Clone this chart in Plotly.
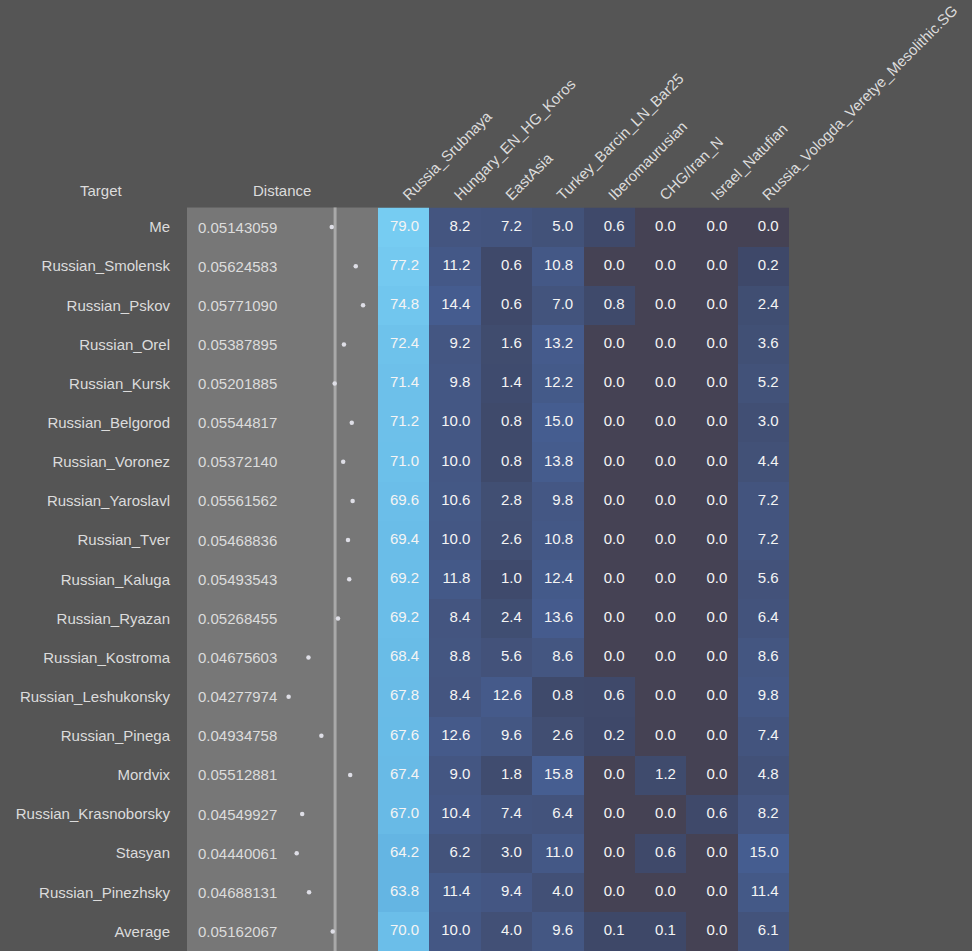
import plotly.graph_objects as go

targets = ["Me", "Russian_Smolensk", "Russian_Pskov", "Russian_Orel", "Russian_Kursk",
           "Russian_Belgorod", "Russian_Voronez", "Russian_Yaroslavl", "Russian_Tver",
           "Russian_Kaluga", "Russian_Ryazan", "Russian_Kostroma", "Russian_Leshukonsky",
           "Russian_Pinega", "Mordvix", "Russian_Krasnoborsky", "Stasyan",
           "Russian_Pinezhsky", "Average"]

distances = [0.05143059, 0.05624583, 0.05771090, 0.05387895, 0.05201885, 0.05544817,
             0.05372140, 0.05561562, 0.05468836, 0.05493543, 0.05268455, 0.04675603,
             0.04277974, 0.04934758, 0.05512881, 0.04549927, 0.04440061, 0.04688131,
             0.05162067]

sources = ["Russia_Srubnaya", "Hungary_EN_HG_Koros", "EastAsia", "Turkey_Barcin_LN_Bar25",
           "Iberomaurusian", "CHG/Iran_N", "Israel_Natufian", "Russia_Vologda_Veretye_Mesolithic.SG"]

russia_srubnaya = [79.0, 77.2, 74.8, 72.4, 71.4, 71.2, 71.0, 69.6, 69.4, 69.2, 69.2, 68.4, 67.8, 67.6, 67.4, 67.0, 64.2, 63.8, 70.0]
hungary_koros   = [8.2, 11.2, 14.4, 9.2, 9.8, 10.0, 10.0, 10.6, 10.0, 11.8, 8.4, 8.8, 8.4, 12.6, 9.0, 10.4, 6.2, 11.4, 10.0]
east_asia       = [7.2, 0.6, 0.6, 1.6, 1.4, 0.8, 0.8, 2.8, 2.6, 1.0, 2.4, 5.6, 12.6, 9.6, 1.8, 7.4, 3.0, 9.4, 4.0]
turkey_barcin   = [5.0, 10.8, 7.0, 13.2, 12.2, 15.0, 13.8, 9.8, 10.8, 12.4, 13.6, 8.6, 0.8, 2.6, 15.8, 6.4, 11.0, 4.0, 9.6]
iberomaurusian  = [0.6, 0.0, 0.8, 0.0, 0.0, 0.0, 0.0, 0.0, 0.0, 0.0, 0.0, 0.0, 0.6, 0.2, 0.0, 0.0, 0.0, 0.0, 0.1]
chg_iran        = [0.0, 0.0, 0.0, 0.0, 0.0, 0.0, 0.0, 0.0, 0.0, 0.0, 0.0, 0.0, 0.0, 0.0, 1.2, 0.0, 0.6, 0.0, 0.1]
israel_natufian = [0.0, 0.0, 0.0, 0.0, 0.0, 0.0, 0.0, 0.0, 0.0, 0.0, 0.0, 0.0, 0.0, 0.0, 0.0, 0.6, 0.0, 0.0, 0.0]
vologda_veretye = [0.0, 0.2, 2.4, 3.6, 5.2, 3.0, 4.4, 7.2, 7.2, 5.6, 6.4, 8.6, 9.8, 7.4, 4.8, 8.2, 15.0, 11.4, 6.1]

columns = [russia_srubnaya, hungary_koros, east_asia, turkey_barcin,
           iberomaurusian, chg_iran, israel_natufian, vologda_veretye]

ref_line = 0.0521

BG = "#555555"
PANEL = "#777777"
LABEL = "#dcdcdc"
FONT = "Arial, Liberation Sans, sans-serif"

W, H = 972, 951
def px_x(p): return p / W
def px_y(p): return 1 - p / H

z = [[col[r] for col in columns] for r in range(len(targets))]
zmax = 79.0
stops = [(0.0, "#454254"), (0.05, "#3e4868"), (1.0, "#3f4a6c"), (3.0, "#414f74"),
         (6.0, "#43537b"), (10.0, "#445784"), (15.0, "#455d90"), (40.0, "#5589bb"),
         (64.0, "#64b5e3"), (79.0, "#76ccf2")]
colorscale = [[v / zmax, c] for v, c in stops]

fig = go.Figure()

fig.add_trace(go.Heatmap(
    z=z, x=list(range(len(sources))), y=targets,
    colorscale=colorscale, zmin=0, zmax=zmax, showscale=False,
    xaxis="x", yaxis="y", hoverinfo="skip"))

# cell values, right aligned inside each cell
tx, ty, tt = [], [], []
for ci, col in enumerate(columns):
    for ri, v in enumerate(col):
        tx.append(ci + 0.3)
        ty.append(targets[ri])
        tt.append(f"{v:.1f}")
fig.add_trace(go.Scatter(
    x=tx, y=ty, text=tt, mode="text", textposition="middle left",
    textfont=dict(family=FONT, size=15, color="#f4f4f4"),
    xaxis="x", yaxis="y", hoverinfo="skip", showlegend=False))

# distance dots
fig.add_trace(go.Scatter(
    x=distances, y=targets, mode="markers",
    marker=dict(size=4.5, color="#dedee6"),
    xaxis="x2", yaxis="y", hoverinfo="skip", showlegend=False))

annotations = [
    dict(text="Target", x=px_x(101), y=px_y(191), xref="paper", yref="paper",
         xanchor="center", yanchor="middle", showarrow=False,
         font=dict(family=FONT, size=15, color=LABEL)),
    dict(text="Distance", x=px_x(282), y=px_y(191), xref="paper", yref="paper",
         xanchor="center", yanchor="middle", showarrow=False,
         font=dict(family=FONT, size=15, color=LABEL)),
]
for t, d in zip(targets, distances):
    annotations.append(dict(text=f"{d:.8f}", x=px_x(196), y=t, xref="paper", yref="y",
                            xanchor="left", showarrow=False,
                            font=dict(family=FONT, size=15, color=LABEL)))

shapes = [
    dict(type="rect", xref="x2 domain", yref="y domain", x0=0, x1=1, y0=0, y1=1,
         fillcolor=PANEL, line=dict(width=0), layer="below"),
    dict(type="line", xref="x2", yref="y domain", x0=ref_line, x1=ref_line, y0=0, y1=1,
         line=dict(color="#a9a9a9", width=3), layer="below"),
]

y_top = px_y(207.5)
fig.update_layout(
    width=W, height=H, margin=dict(l=0, r=0, t=0, b=0),
    paper_bgcolor=BG, plot_bgcolor="rgba(0,0,0,0)",
    font=dict(family=FONT, size=15, color=LABEL),
    showlegend=False,
    xaxis=dict(domain=[px_x(378), px_x(789)], range=[-0.5, 7.5], side="top",
               tickvals=list(range(len(sources))), ticktext=sources, tickangle=-45,
               showgrid=False, zeroline=False, showline=False, ticks="",
               tickfont=dict(family=FONT, size=15, color=LABEL),
               anchor="y", automargin=False, fixedrange=True),
    xaxis2=dict(domain=[px_x(187), px_x(378)], range=[0.02239, 0.06071],
                showgrid=False, zeroline=False, showline=False, showticklabels=False,
                ticks="", anchor="y", automargin=False, fixedrange=True),
    yaxis=dict(domain=[0, y_top], type="category", categoryorder="array",
               categoryarray=targets, range=[len(targets) - 0.5, -0.5],
               showgrid=False, zeroline=False, showline=False,
               ticks="outside", ticklen=13, tickcolor="rgba(0,0,0,0)",
               tickfont=dict(family=FONT, size=15, color=LABEL),
               anchor="x2", automargin=False, fixedrange=True),
    annotations=annotations, shapes=shapes,
)

fig.write_html("out.html", config={"displayModeBar": False},
               post_script="document.body.style.margin='0';document.body.style.overflow='hidden';")
